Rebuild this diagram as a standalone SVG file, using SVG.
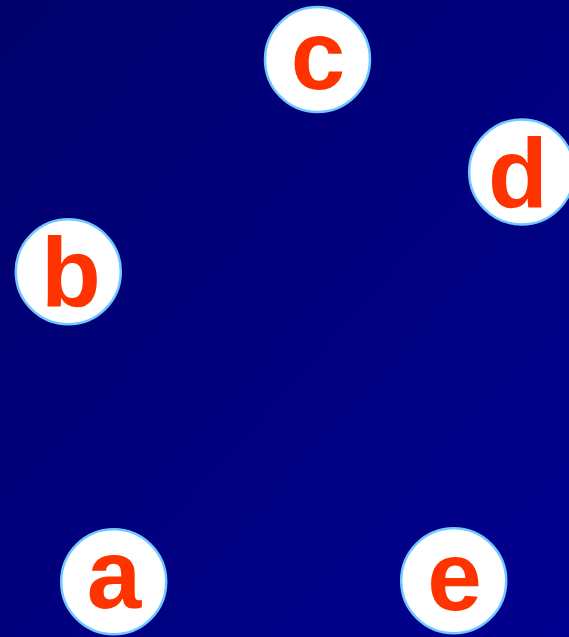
<svg xmlns="http://www.w3.org/2000/svg" width="569" height="637" viewBox="0 0 569 637">
<defs>
<linearGradient id="bg" x1="0" y1="0" x2="1" y2="1">
<stop offset="0" stop-color="#00006c"/>
<stop offset="1" stop-color="#00008f"/>
</linearGradient>
<style>
.n circle{fill:#ffffff;stroke:#70c8ff;stroke-width:2.5}
.n text{font-family:"Liberation Sans",Arial,sans-serif;font-weight:bold;font-size:98px;fill:#ff3300;text-anchor:middle}
</style>
</defs>
<rect x="0" y="0" width="569" height="637" fill="url(#bg)"/>
<g id="connectors"></g>
<g id="node-c" class="n"><circle cx="317.5" cy="59.5" r="52.5"/><text x="318" y="88.5">c</text></g>
<g id="node-d" class="n"><circle cx="521.7" cy="172" r="52.5"/><text x="518" y="207">d</text></g>
<g id="node-b" class="n"><circle cx="68.3" cy="271.7" r="52.5"/><text x="71" y="306">b</text></g>
<g id="node-a" class="n"><circle cx="113.7" cy="581.7" r="52.5"/><text x="114" y="608">a</text></g>
<g id="node-e" class="n"><circle cx="453.7" cy="580.7" r="52.5"/><text x="454.5" y="609.5">e</text></g>
</svg>
